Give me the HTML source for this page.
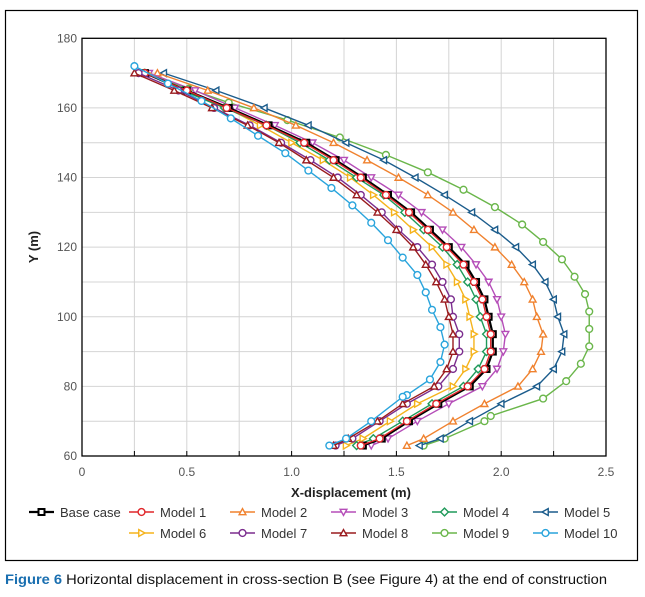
<!DOCTYPE html>
<html><head><meta charset="utf-8"><style>
html,body{margin:0;padding:0;background:#fff;}
svg{display:block;font-family:"Liberation Sans",sans-serif;}
</style></head><body>
<svg id="c" width="645" height="597" viewBox="0 0 645 597">
<rect x="5.5" y="10.5" width="632" height="550" fill="none" stroke="#000" stroke-width="1.2"/>
<g id="grid"></g>
<g id="axes"></g>
<g id="series"></g>
<g id="legend"></g>
<text x="351" y="497" text-anchor="middle" font-size="13" font-weight="bold" fill="#222">X-displacement (m)</text>
<text transform="translate(38,247) rotate(-90)" text-anchor="middle" font-size="13" font-weight="bold" fill="#222">Y (m)</text>
<text x="5" y="584" font-size="14" textLength="602" lengthAdjust="spacingAndGlyphs" fill="#111"><tspan font-weight="bold" fill="#1a6fb0">Figure 6</tspan> Horizontal displacement in cross-section B (see Figure 4) at the end of construction</text>
</svg>
<script>
const xTicks=[0,0.5,1.0,1.5,2.0,2.5];
const xTickLabels=["0","0.5","1.0","1.5","2.0","2.5"];
const yTicks=[60,80,100,120,140,160,180];
const seriesNames=["Base case","Model 1","Model 2","Model 3","Model 4","Model 5","Model 6","Model 7","Model 8","Model 9","Model 10"];
const yStd=[170,165,160,155,150,145,140,135,130,125,120,115,110,105,100,95,90,85,80,75,70,65,63];
const yM9=[170,165.5,161.5,156.5,151.5,146.5,141.5,136.5,131.5,126.5,121.5,116.5,111.5,106.5,101.5,96.5,91.5,86.5,81.5,76.5,71.5,70,65,63];
const yM10=[172,167,162,157,152,147,142,137,132,127,122,117,112,107,102,97,92,87,82,77.5,77,70,65,63];
const xBase=[0.30,0.50,0.70,0.89,1.07,1.21,1.34,1.46,1.57,1.66,1.75,1.83,1.88,1.92,1.94,1.96,1.96,1.93,1.85,1.70,1.56,1.43,1.34];
const xM1=[0.30,0.50,0.69,0.88,1.06,1.20,1.33,1.45,1.56,1.65,1.74,1.82,1.87,1.91,1.93,1.95,1.95,1.92,1.84,1.69,1.55,1.42,1.33];
const xM2=[0.36,0.60,0.82,1.02,1.20,1.36,1.51,1.65,1.77,1.87,1.97,2.05,2.11,2.15,2.17,2.20,2.19,2.15,2.08,1.92,1.77,1.63,1.55];
const xM3=[0.32,0.54,0.73,0.92,1.10,1.25,1.38,1.51,1.62,1.72,1.81,1.88,1.94,1.98,2.00,2.02,2.01,1.98,1.91,1.75,1.60,1.46,1.38];
const xM4=[0.30,0.48,0.68,0.88,1.04,1.18,1.31,1.44,1.54,1.63,1.72,1.79,1.84,1.88,1.90,1.93,1.93,1.89,1.82,1.67,1.53,1.39,1.31];
const xM5=[0.39,0.64,0.87,1.08,1.26,1.44,1.59,1.73,1.86,1.97,2.07,2.15,2.21,2.25,2.27,2.30,2.29,2.25,2.17,2.00,1.85,1.71,1.61];
const xM6=[0.31,0.50,0.69,0.85,1.00,1.15,1.28,1.39,1.49,1.58,1.67,1.74,1.79,1.83,1.85,1.87,1.87,1.83,1.77,1.60,1.47,1.34,1.26];
const xM7=[0.27,0.46,0.63,0.80,0.95,1.09,1.22,1.33,1.43,1.51,1.60,1.67,1.72,1.76,1.77,1.80,1.80,1.77,1.70,1.55,1.42,1.29,1.21];
const xM8=[0.25,0.44,0.62,0.79,0.94,1.07,1.20,1.31,1.41,1.50,1.58,1.64,1.69,1.73,1.75,1.77,1.77,1.74,1.68,1.53,1.41,1.27,1.20];
const xM9=[0.30,0.51,0.70,0.98,1.23,1.45,1.65,1.82,1.97,2.10,2.20,2.29,2.35,2.40,2.42,2.42,2.42,2.38,2.31,2.20,1.95,1.92,1.73,1.63];
const xM10=[0.25,0.41,0.57,0.71,0.84,0.97,1.08,1.19,1.29,1.38,1.46,1.53,1.60,1.64,1.67,1.71,1.73,1.71,1.66,1.55,1.53,1.38,1.26,1.18];
const xsAll=[xBase,xM1,xM2,xM3,xM4,xM5,xM6,xM7,xM8,xM9,xM10];
const ysAll=[yStd,yStd,yStd,yStd,yStd,yStd,yStd,yStd,yStd,yM9,yM10];
const colors=["#000","#e0262a","#f0822f","#b54db8","#1f9a5a","#1b5c8c","#f5b31c","#7b2d8e","#9a1b1e","#6ab64a","#29a4dc"];
const markers=["square","circle","up","down","diamond","left","right","circle","up","circle","circle"];
const NS="http://www.w3.org/2000/svg";
const X0=82,X1=606,Y0=456,Y1=38.3;
const sx=v=>X0+(v-0)/(2.5)*(X1-X0);
const sy=v=>Y0-(v-60)/120*(Y0-Y1);
function mk(tag,attrs,parent){const e=document.createElementNS(NS,tag);for(const k in attrs)e.setAttribute(k,attrs[k]);parent.appendChild(e);return e;}
const grid=document.getElementById('grid'),axes=document.getElementById('axes'),ser=document.getElementById('series'),leg=document.getElementById('legend');
for(let v=0.25;v<2.5;v+=0.25){const l=mk('line',{x1:sx(v),x2:sx(v),y1:Y1,y2:Y0,stroke:'#d4d4d4','stroke-width':1},grid);


const t=mk('line',{x1:sx(v),x2:sx(v),y1:Y0,y2:Y0-5,stroke:'#000','stroke-width':1},axes);

}
for(let v=70;v<180;v+=10){const l=mk('line',{x1:X0,x2:X1,y1:sy(v),y2:sy(v),stroke:'#d4d4d4','stroke-width':1},grid);

}
const box=mk('rect',{x:X0,y:Y1,width:X1-X0,height:Y0-Y1,fill:'none',stroke:'#000','stroke-width':1.3},axes);


xTicks.forEach((v,i)=>{const t=mk('text',{x:sx(v),y:Y0+20,'text-anchor':'middle','font-size':12,fill:'#555'},axes);t.textContent=xTickLabels[i];

});
yTicks.forEach(v=>{const t=mk('text',{x:X0-5,y:sy(v)+4,'text-anchor':'end','font-size':12,fill:'#555'},axes);t.textContent=v;

});
function marker(type,cx,cy,col,g){const r=3.4;let e;
if(type==='circle')e=mk('circle',{cx,cy,r},g);
else if(type==='square')e=mk('rect',{x:cx-3,y:cy-3,width:6,height:6},g);
else{let p;if(type==='up')p=[[0,-r],[r,r*0.8],[-r,r*0.8]];else if(type==='down')p=[[0,r],[r,-r*0.8],[-r,-r*0.8]];else if(type==='left')p=[[-r,0],[r*0.8,-r],[r*0.8,r]];else if(type==='right')p=[[r,0],[-r*0.8,-r],[-r*0.8,r]];else p=[[0,-r-0.5],[r+0.5,0],[0,r+0.5],[-r-0.5,0]];
e=mk('polygon',{points:p.map(q=>(cx+q[0])+','+(cy+q[1])).join(' ')},g);}
e.setAttribute('fill','#fff');e.setAttribute('stroke',col);e.setAttribute('stroke-width',type==='square'?2:1.4);return e;}
const order=[9,5,2,3,6,4,0,1,7,8,10];
order.forEach(i=>{const g=mk('g',{},ser);


const xs=xsAll[i],ys=ysAll[i];
const pl=mk('polyline',{points:xs.map((v,k)=>sx(v)+','+sy(ys[k])).join(' '),fill:'none',stroke:colors[i],'stroke-width':i===0?2.2:1.4},g);


xs.forEach((v,k)=>{const m=marker(markers[i],sx(v),sy(ys[k]),colors[i],g);

});});
const colX=[29,129,230,331,432,533];
seriesNames.forEach((n,i)=>{const row=i<6?0:1;const col=i<6?i:i-5;const x=colX[col],y=row?533:512;
const g=mk('g',{},leg);


mk('line',{x1:x,x2:x+25,y1:y,y2:y,stroke:colors[i],'stroke-width':i===0?2.2:1.6},g);
marker(markers[i],x+12.5,y,colors[i],g);
const t=mk('text',{x:x+31,y:y+5,'font-size':13,fill:'#333'},g);t.textContent=n;});
</script>
</body></html>
